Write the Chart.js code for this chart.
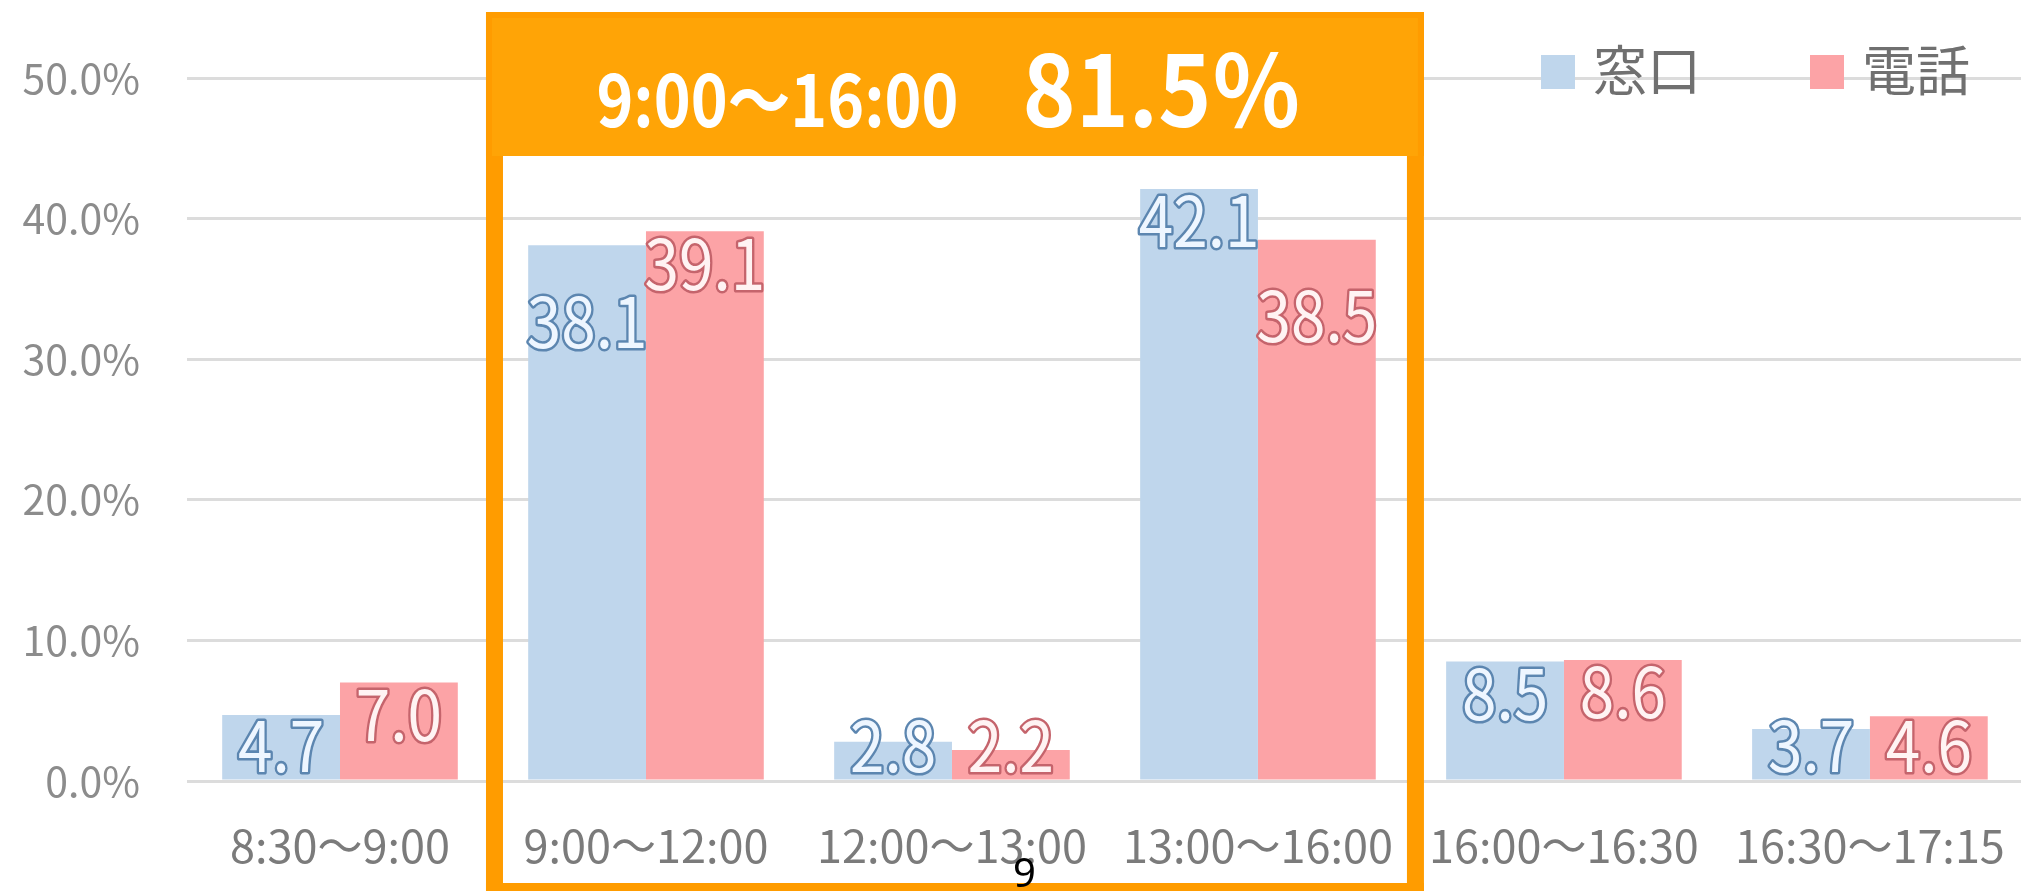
<!DOCTYPE html>
<html lang="ja">
<head>
<meta charset="utf-8">
<script src="https://cdn.jsdelivr.net/npm/chart.js@4.4.1/dist/chart.umd.min.js"></script>
<style>
  html, body { margin: 0; padding: 0; background: #fff; overflow: hidden; }
  #wrap { position: relative; width: 2035px; height: 891px; }
  #page { position: absolute; left: 1013px; top: 852px; font: 40px/40px "Noto Sans", sans-serif; color: #000; }
</style>
</head>
<body>
<div id="wrap"><canvas id="chart" width="2035" height="891"></canvas></div>
<div id="page">9</div>
<script>
const CATEGORIES = ["8:30～9:00", "9:00～12:00", "12:00～13:00", "13:00～16:00", "16:00～16:30", "16:30～17:15"];
const WINDOW_LABEL = "窓口";
const PHONE_LABEL = "電話";
const WINDOW_VALUES = [4.7, 38.1, 2.8, 42.1, 8.5, 3.7];
const PHONE_VALUES = [7.0, 39.1, 2.2, 38.5, 8.6, 4.6];
const Y_TICKS = [0, 10, 20, 30, 40, 50];
const HIGHLIGHT_FROM = 1;
const HIGHLIGHT_TO = 3;
const HIGHLIGHT_RANGE = "9:00～16:00";
const HIGHLIGHT_SHARE = "81.5％";

const FONT = "'Noto Sans CJK JP', 'Noto Sans', sans-serif";
const BLUE = "#bfd6ec";
const RED = "#fca3a6";
const ORANGE = "#ff9c00";
const ORANGE_HEAD = "#ffa406";

// value labels: light digits with a dark outline, at the inside end of each bar;
// a tall bar's label drops lower when it would clash with its neighbour's
const valueLabelPlugin = {
  id: "valueLabels",
  afterDatasetsDraw(chart) {
    const { ctx } = chart;
    const metas = [chart.getDatasetMeta(0), chart.getDatasetMeta(1)];
    const strokes = ["#5c86b0", "#c5646c"];
    const fills = ["#eef6ff", "#fff3f3"];
    CATEGORIES.forEach((cat, i) => {
      const bars = metas.map((m) => m.data[i]);
      const vals = chart.data.datasets.map((d) => d.data[i]);
      const ys = bars.map((b) => Math.min(b.y + 32, b.base - 34));
      const lo = vals[0] < vals[1] ? 0 : 1;
      if (Math.abs(ys[0] - ys[1]) < 60 && bars[lo].base - bars[lo].y > 200) {
        ys[lo] = bars[lo].y + 76;
      }
      bars.forEach((b, k) => {
        ctx.save();
        ctx.translate(b.x, ys[k]);
        ctx.scale(0.94, 1.05);
        ctx.font = `66px ${FONT}`;
        ctx.textAlign = "center";
        ctx.textBaseline = "middle";
        ctx.lineJoin = "round";
        ctx.lineWidth = 5;
        ctx.strokeStyle = strokes[k];
        const txt = vals[k].toFixed(1);
        ctx.strokeText(txt, 0, 0);
        ctx.fillStyle = fills[k];
        ctx.fillText(txt, 0, 0);
        ctx.restore();
      });
    });
  },
};

function narrowText(ctx, text, x, y, font, sx) {
  ctx.save();
  ctx.translate(x, y);
  ctx.scale(sx, 1);
  ctx.font = font;
  ctx.fillText(text, 0, 0);
  ctx.restore();
}

// orange frame round the 9:00-16:00 groups, with its header text
const highlightPlugin = {
  id: "highlight",
  afterDraw(chart) {
    const { ctx } = chart;
    const xs = chart.scales.x;
    const half = (xs.getPixelForValue(1) - xs.getPixelForValue(0)) / 2;
    const left = xs.getPixelForValue(HIGHLIGHT_FROM) - half - 7;
    const right = xs.getPixelForValue(HIGHLIGHT_TO) + half + 13;
    const top = 12, headH = 144, side = 17;
    ctx.save();
    ctx.fillStyle = ORANGE;
    ctx.fillRect(left, top, side, 900);
    ctx.fillRect(right - side, top, side, 900);
    ctx.fillRect(left, 883, right - left, 20);
    ctx.fillRect(left, top, right - left, headH);
    ctx.fillStyle = ORANGE_HEAD;
    ctx.fillRect(left + 6, top + 6, right - left - 12, headH - 6);

    ctx.fillStyle = "#fff";
    ctx.textBaseline = "alphabetic";
    ctx.textAlign = "left";
    const f1 = `bold 72px ${FONT}`;
    const f2 = `bold 98px ${FONT}`;
    const s1 = 0.87, s2 = 0.92;
    ctx.font = f1;
    const w1 = ctx.measureText(HIGHLIGHT_RANGE).width * s1;
    ctx.font = f2;
    const w2 = ctx.measureText(HIGHLIGHT_SHARE).width * s2;
    const gap = 64;
    const x = (left + right) / 2 - (w1 + gap + w2) / 2 - 6;
    narrowText(ctx, HIGHLIGHT_RANGE, x, 127, f1, s1);
    narrowText(ctx, HIGHLIGHT_SHARE, x + w1 + gap, 127, f2, s2);
    ctx.restore();
  },
};

const legendPlugin = {
  id: "cornerLegend",
  afterDraw(chart) {
    const { ctx } = chart;
    const spots = [1541, 1810];
    chart.data.datasets.forEach((ds, i) => {
      ctx.save();
      ctx.fillStyle = ds.backgroundColor;
      ctx.fillRect(spots[i], 55, 34, 34);
      ctx.fillStyle = "#707070";
      ctx.font = `54px ${FONT}`;
      ctx.textBaseline = "middle";
      ctx.textAlign = "left";
      ctx.fillText(ds.label, spots[i] + 52, 70);
      ctx.restore();
    });
  },
};

new Chart(document.getElementById("chart"), {
  type: "bar",
  data: {
    labels: CATEGORIES,
    datasets: [
      { label: WINDOW_LABEL, data: WINDOW_VALUES, backgroundColor: BLUE, categoryPercentage: 0.77, barPercentage: 1.0 },
      { label: PHONE_LABEL, data: PHONE_VALUES, backgroundColor: RED, categoryPercentage: 0.77, barPercentage: 1.0 },
    ],
  },
  options: {
    responsive: false,
    animation: false,
    layout: { padding: { top: 78, right: 2, left: 0, bottom: 0 } },
    plugins: { legend: { display: false }, tooltip: { enabled: false } },
    scales: {
      x: {
        grid: { display: false },
        border: { display: false },
        ticks: { color: "#7b7b7b", font: { family: FONT, size: 45 }, padding: 30, maxRotation: 0, autoSkip: false },
        afterFit: (scale) => { scale.height = 110; },
      },
      y: {
        min: 0,
        max: 50,
        grid: { color: "#dcdcdc", lineWidth: 3, drawTicks: false },
        border: { display: false },
        afterBuildTicks: (scale) => { scale.ticks = Y_TICKS.map((v) => ({ value: v })); },
        ticks: {
          color: "#8c8c8c",
          font: { family: FONT, size: 41 },
          padding: 47,
          callback: (v) => v.toFixed(1) + "%",
        },
        afterFit: (scale) => { scale.width = 187; },
      },
    },
  },
  plugins: [valueLabelPlugin, highlightPlugin, legendPlugin],
});
</script>
</body>
</html>
